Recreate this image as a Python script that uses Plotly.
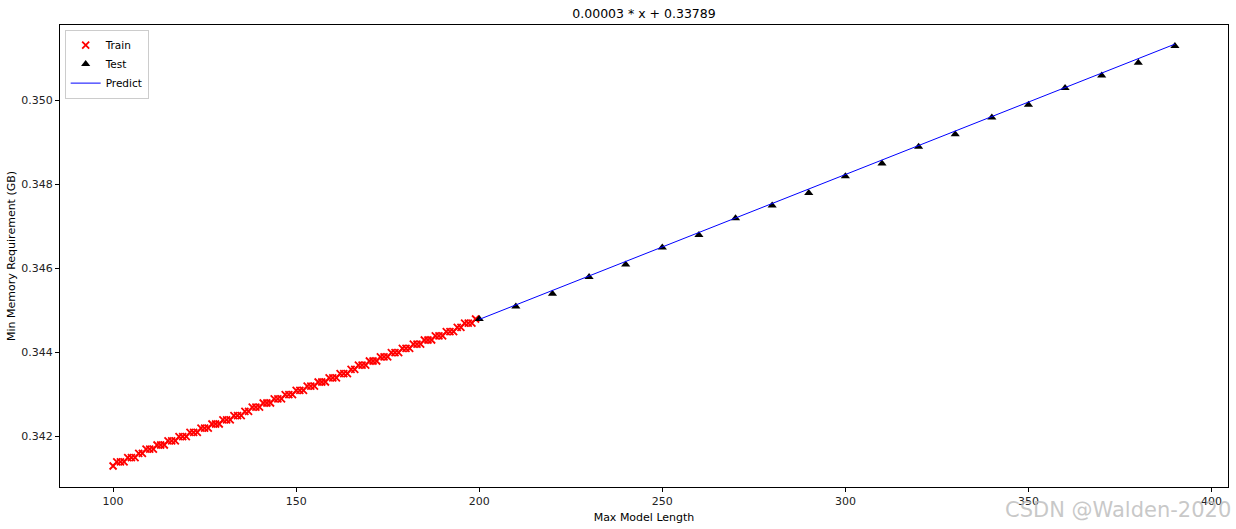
import plotly.graph_objects as go

# ---- data ----
train_x = list(range(100, 200))
train_y = [
    0.3413, 0.3414, 0.3414, 0.3414, 0.3415, 0.3415, 0.3415, 0.3416, 0.3416, 0.3417,
    0.3417, 0.3417, 0.3418, 0.3418, 0.3418, 0.3419, 0.3419, 0.3419, 0.3420, 0.3420,
    0.3420, 0.3421, 0.3421, 0.3421, 0.3422, 0.3422, 0.3422, 0.3423, 0.3423, 0.3423,
    0.3424, 0.3424, 0.3424, 0.3425, 0.3425, 0.3425, 0.3426, 0.3426, 0.3427, 0.3427,
    0.3427, 0.3428, 0.3428, 0.3428, 0.3429, 0.3429, 0.3429, 0.3430, 0.3430, 0.3430,
    0.3431, 0.3431, 0.3431, 0.3432, 0.3432, 0.3432, 0.3433, 0.3433, 0.3433, 0.3434,
    0.3434, 0.3434, 0.3435, 0.3435, 0.3435, 0.3436, 0.3436, 0.3437, 0.3437, 0.3437,
    0.3438, 0.3438, 0.3438, 0.3439, 0.3439, 0.3439, 0.3440, 0.3440, 0.3440, 0.3441,
    0.3441, 0.3441, 0.3442, 0.3442, 0.3442, 0.3443, 0.3443, 0.3443, 0.3444, 0.3444,
    0.3444, 0.3445, 0.3445, 0.3445, 0.3446, 0.3446, 0.3447, 0.3447, 0.3447, 0.3448,
]
test_x = [200, 210, 220, 230, 240, 250, 260, 270, 280, 290,
          300, 310, 320, 330, 340, 350, 360, 370, 380, 390]
test_y = [0.3448, 0.3451, 0.3454, 0.3458, 0.3461, 0.3465, 0.3468, 0.3472, 0.3475, 0.3478,
          0.3482, 0.3485, 0.3489, 0.3492, 0.3496, 0.3499, 0.3503, 0.3506, 0.3509, 0.3513]
predict_y = [0.34479, 0.345135, 0.34548, 0.345825, 0.34617, 0.346515, 0.34686, 0.347205,
             0.34755, 0.347895, 0.34824, 0.348585, 0.34893, 0.349275, 0.34962, 0.349965,
             0.35031, 0.350655, 0.351, 0.351345]

title_text = "0.00003 * x + 0.33789"
x_label = "Max Model Length"
y_label = "Min Memory Requirement (GB)"
watermark = "CSDN @Walden-2020"

FONT = "DejaVu Sans"

fig = go.Figure()
fig.add_trace(go.Scatter(
    x=train_x, y=train_y, mode="markers", name="Train",
    marker=dict(symbol="x-thin", size=7, color="red",
                line=dict(color="red", width=1.8)),
))
fig.add_trace(go.Scatter(
    x=test_x, y=test_y, mode="markers", name="Test",
    marker=dict(symbol="triangle-up", size=8, color="black"),
))
fig.add_trace(go.Scatter(
    x=test_x, y=predict_y, mode="lines", name="Predict",
    line=dict(color="blue", width=1),
))

axis_common = dict(
    showgrid=False, zeroline=False, showline=True, linecolor="black", linewidth=1,
    mirror=True, ticks="outside", ticklen=4, tickcolor="black",
    tickfont=dict(family=FONT, size=11, color="#222222"),
)

fig.update_layout(
    width=1236, height=529,
    margin=dict(l=60, r=7, t=25, b=40),
    paper_bgcolor="white", plot_bgcolor="white",
    font=dict(family=FONT, color="black"),
    title=dict(text=title_text, x=0.5, xref="paper", xanchor="center",
               y=1 - 14 / 529, yref="container", yanchor="middle",
               font=dict(family=FONT, size=12.5, color="black")),
    xaxis=dict(range=[85.5, 404.5], tickvals=[100, 150, 200, 250, 300, 350, 400],
               title=dict(text=x_label, font=dict(family=FONT, size=11), standoff=6),
               **axis_common),
    yaxis=dict(range=[0.3408, 0.3518], tickvals=[0.342, 0.344, 0.346, 0.348, 0.350],
               tickformat=".3f",
               title=dict(text=y_label, font=dict(family=FONT, size=11), standoff=3),
               **axis_common),
    legend=dict(x=0.004, y=0.99, xanchor="left", yanchor="top",
                bgcolor="white", bordercolor="#cccccc", borderwidth=1,
                font=dict(family=FONT, size=10.5, color="black"),
                tracegroupgap=0, itemwidth=30),
    showlegend=True,
)

fig.add_annotation(
    text=watermark, xref="paper", yref="paper", x=1.004, y=-0.05,
    xanchor="right", yanchor="middle", showarrow=False,
    font=dict(family=FONT, size=21, color="rgba(190,190,190,0.85)"),
)

fig.write_html("out.html", config={"displayModeBar": False},
               post_script="document.body.style.margin='0';")
